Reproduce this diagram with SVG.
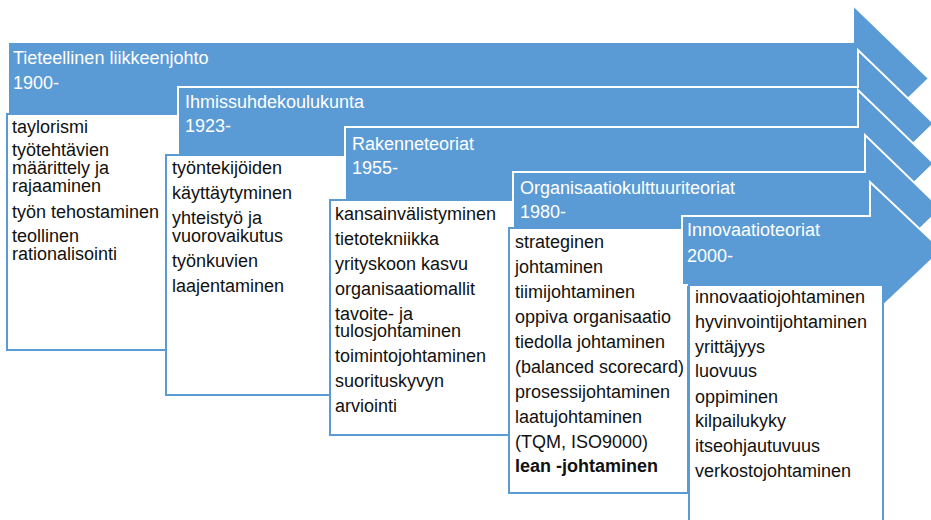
<svg xmlns="http://www.w3.org/2000/svg" width="931" height="520" viewBox="0 0 931 520">
  <style>
    .arrow { fill: #5B9BD5; stroke: #FFFFFF; stroke-width: 2; stroke-linejoin: miter; }
    .box { fill: #FFFFFF; stroke: #5B9BD5; stroke-width: 2; }
    .hd { font-family: "Liberation Sans", Arial, sans-serif; font-size: 18px; fill: #FFFFFF; }
    .it { font-family: "Liberation Sans", Arial, sans-serif; font-size: 18px; fill: #111111; }
    .b { font-weight: bold; }
  </style>
  <rect width="931" height="520" fill="#FFFFFF"/>

  <!-- 1900- -->
  <g id="era-1900">
    <path class="arrow" d="M8,42 H853 V5 L929,78.5 L853,152 V115 H8 Z"/>
    <text class="hd" x="13" y="64">Tieteellinen liikkeenjohto</text>
    <text class="hd" x="13" y="89">1900-</text>
    <rect class="box" x="7" y="114" width="185" height="236"/>
    <text class="it" x="12" y="133">taylorismi</text>
    <text class="it" x="12" y="156">työtehtävien</text>
    <text class="it" x="12" y="174">määrittely ja</text>
    <text class="it" x="12" y="192">rajaaminen</text>
    <text class="it" x="12" y="218">työn tehostaminen</text>
    <text class="it" x="12" y="242">teollinen</text>
    <text class="it" x="12" y="260">rationalisointi</text>
  </g>

  <!-- 1923- -->
  <g id="era-1923">
    <path class="arrow" d="M178,87 H858 V50 L934,123.5 L858,197 V160 H178 Z"/>
    <text class="hd" x="185" y="108">Ihmissuhdekoulukunta</text>
    <text class="hd" x="185" y="132">1923-</text>
    <rect class="box" x="166" y="155" width="185" height="240"/>
    <text class="it" x="172" y="174">työntekijöiden</text>
    <text class="it" x="172" y="199">käyttäytyminen</text>
    <text class="it" x="172" y="224">yhteistyö ja</text>
    <text class="it" x="172" y="242">vuorovaikutus</text>
    <text class="it" x="172" y="267">työnkuvien</text>
    <text class="it" x="172" y="292">laajentaminen</text>
  </g>

  <!-- 1955- -->
  <g id="era-1955">
    <path class="arrow" d="M345,127 H858 V90 L934,163.5 L858,237 V200 H345 Z"/>
    <text class="hd" x="352" y="150">Rakenneteoriat</text>
    <text class="hd" x="352" y="174">1955-</text>
    <rect class="box" x="330" y="200" width="185" height="235"/>
    <text class="it" x="335" y="220">kansainvälistyminen</text>
    <text class="it" x="335" y="245">tietotekniikka</text>
    <text class="it" x="335" y="270">yrityskoon kasvu</text>
    <text class="it" x="335" y="295">organisaatiomallit</text>
    <text class="it" x="335" y="320">tavoite- ja</text>
    <text class="it" x="335" y="337">tulosjohtaminen</text>
    <text class="it" x="335" y="362">toimintojohtaminen</text>
    <text class="it" x="335" y="387">suorituskyvyn</text>
    <text class="it" x="335" y="412">arviointi</text>
  </g>

  <!-- 1980- -->
  <g id="era-1980">
    <path class="arrow" d="M513,172 H865 V135 L941,208.5 L865,282 V245 H513 Z"/>
    <text class="hd" x="520" y="194">Organisaatiokulttuuriteoriat</text>
    <text class="hd" x="520" y="218">1980-</text>
    <rect class="box" x="509" y="228" width="179" height="265"/>
    <text class="it" x="515" y="248">strateginen</text>
    <text class="it" x="515" y="273">johtaminen</text>
    <text class="it" x="515" y="298">tiimijohtaminen</text>
    <text class="it" x="515" y="323">oppiva organisaatio</text>
    <text class="it" x="515" y="348">tiedolla johtaminen</text>
    <text class="it" x="515" y="373">(balanced scorecard)</text>
    <text class="it" x="515" y="398">prosessijohtaminen</text>
    <text class="it" x="515" y="423">laatujohtaminen</text>
    <text class="it" x="515" y="448">(TQM, ISO9000)</text>
    <text class="it b" x="515" y="472">lean -johtaminen</text>
  </g>

  <!-- 2000- -->
  <g id="era-2000">
    <path class="arrow" d="M682,216 H870 V182 L942,250 L870,318 V285 H682 Z"/>
    <text class="hd" x="687" y="236">Innovaatioteoriat</text>
    <text class="hd" x="687" y="262">2000-</text>
    <rect class="box" x="689" y="285" width="194" height="250"/>
    <text class="it" x="695" y="303">innovaatiojohtaminen</text>
    <text class="it" x="695" y="328">hyvinvointijohtaminen</text>
    <text class="it" x="695" y="353">yrittäjyys</text>
    <text class="it" x="695" y="377">luovuus</text>
    <text class="it" x="695" y="403">oppiminen</text>
    <text class="it" x="695" y="427">kilpailukyky</text>
    <text class="it" x="695" y="452">itseohjautuvuus</text>
    <text class="it" x="695" y="477">verkostojohtaminen</text>
  </g>
</svg>
